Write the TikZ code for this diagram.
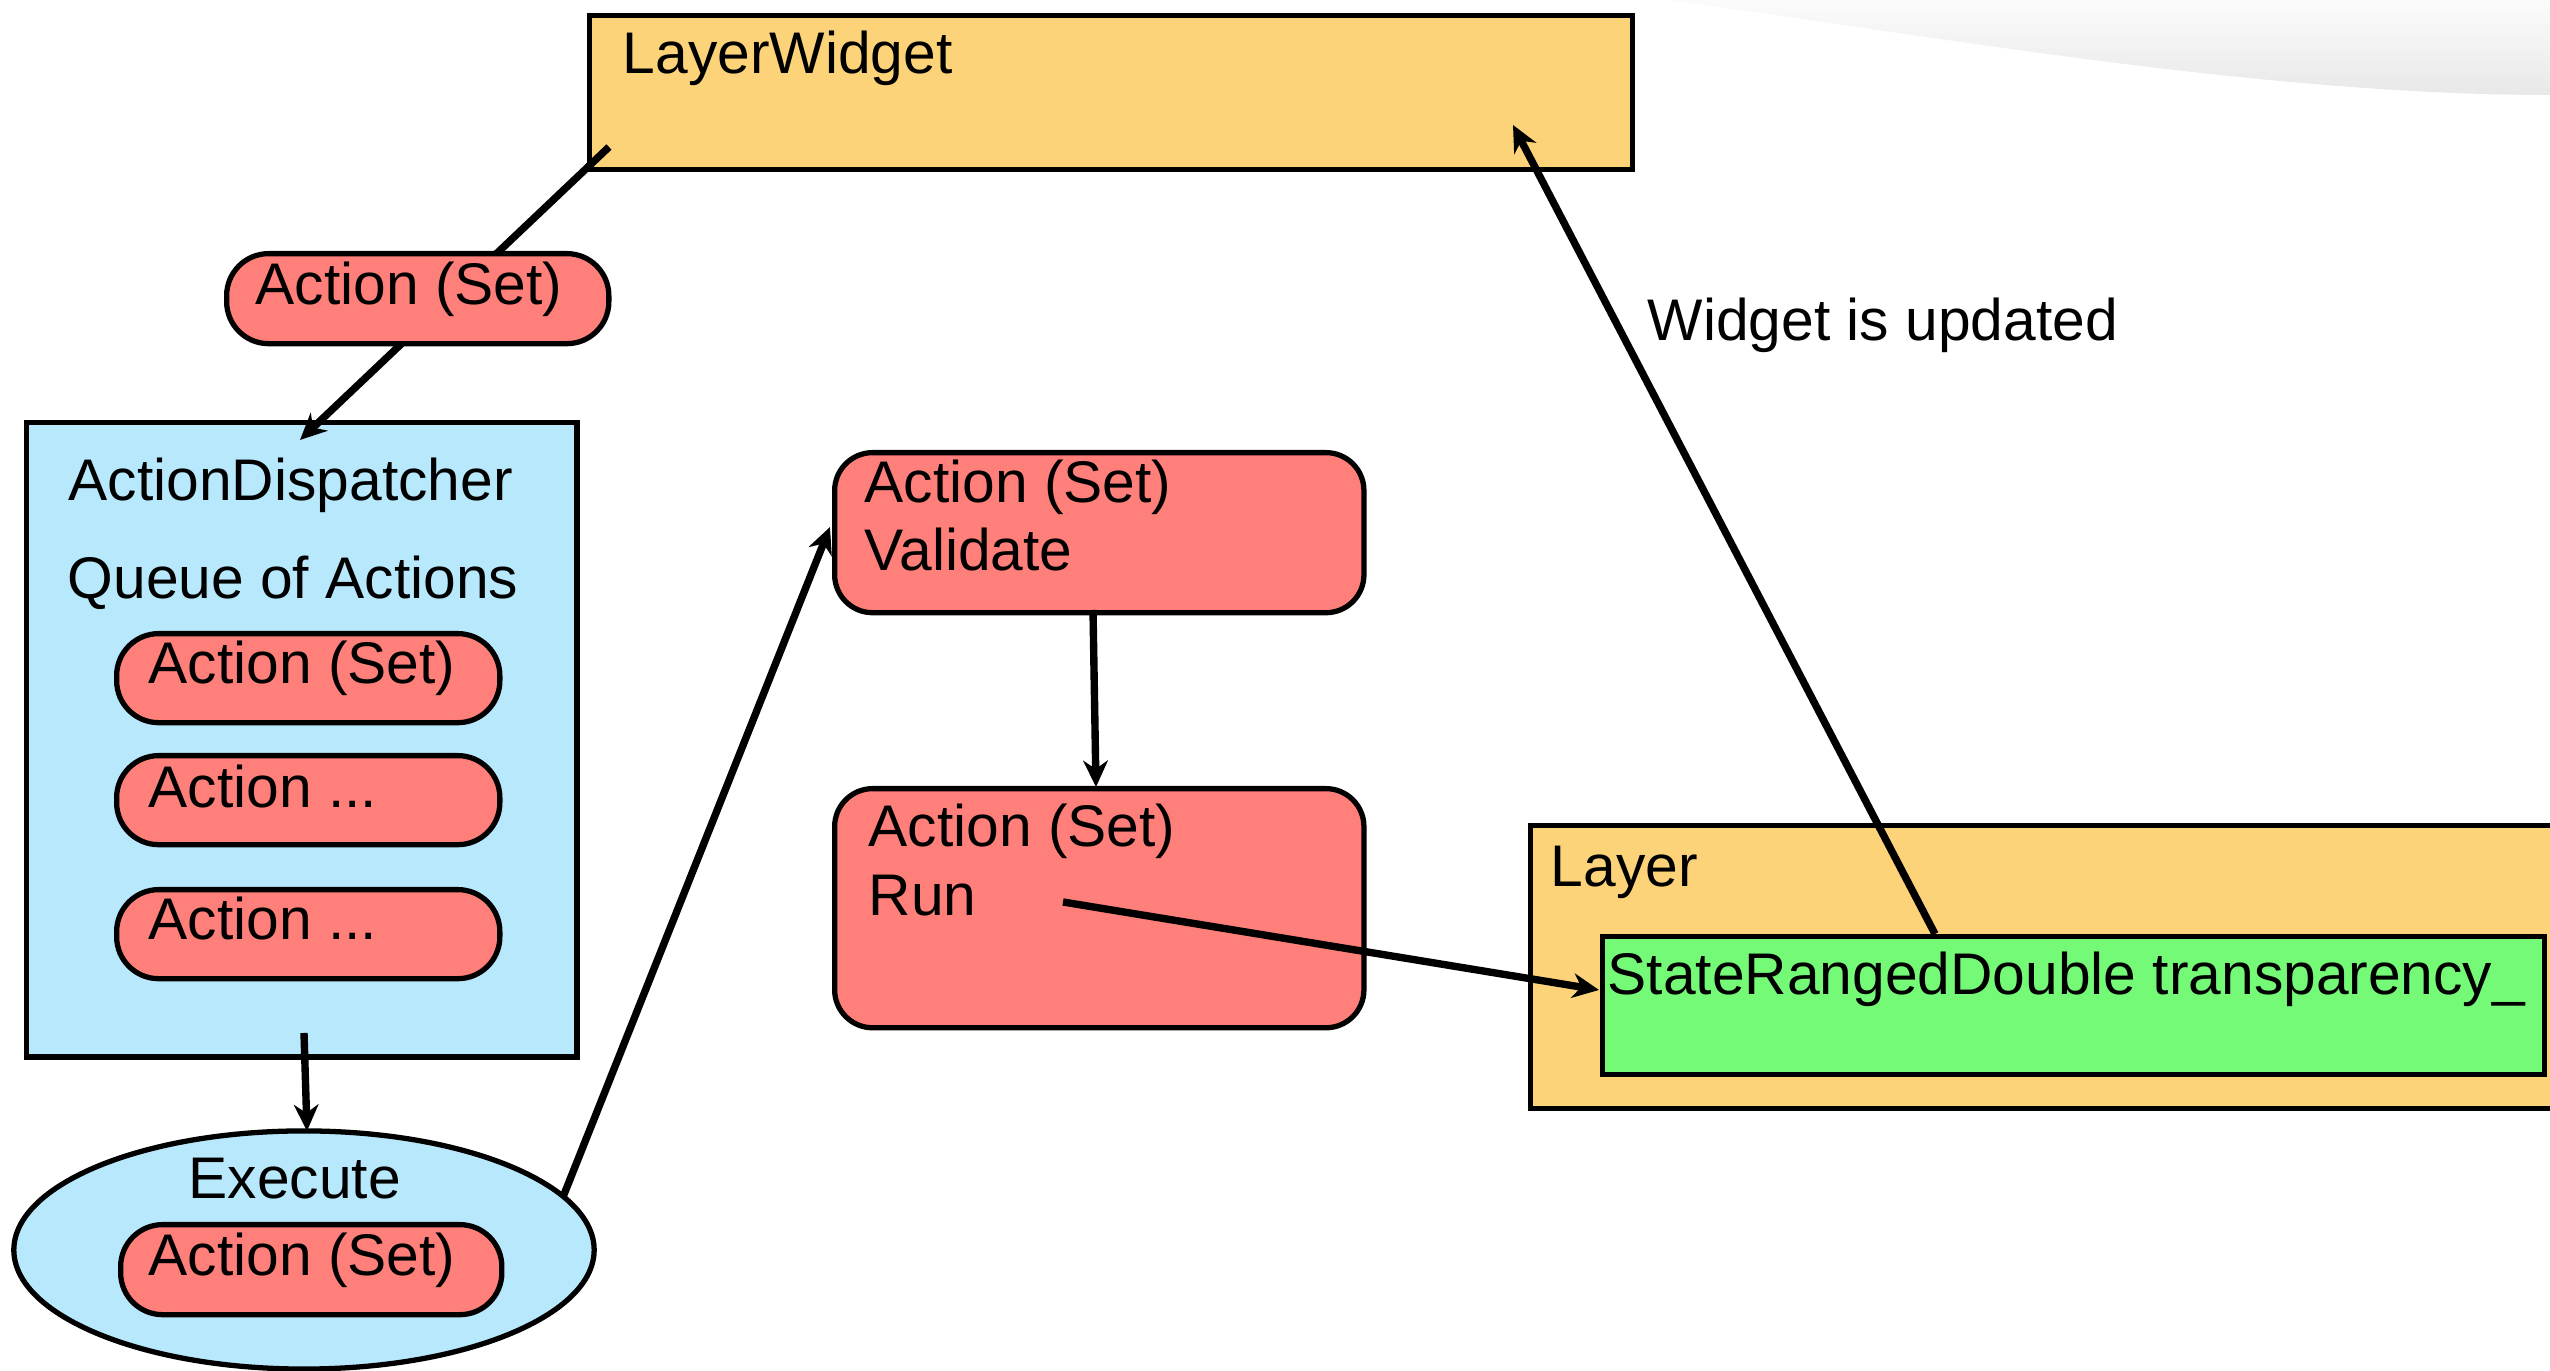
\documentclass[tikz,border=0pt]{standalone}
\usepackage{fontspec}
\setmainfont{Liberation Sans}
\usetikzlibrary{arrows.meta,shapes.geometric}
\definecolor{boxorange}{RGB}{253,211,122}
\definecolor{pillred}{RGB}{255,128,122}
\definecolor{queueblue}{RGB}{184,232,252}
\definecolor{stategreen}{RGB}{117,250,120}

\begin{document}
\begin{tikzpicture}[x=0.01cm,y=-0.01cm,
  frame/.style={draw=black, line width=1.5pt, rectangle, anchor=north west, inner sep=0pt},
  pill/.style={frame, fill=pillred, rounded corners=0.42cm},
  bigpill/.style={frame, fill=pillred, rounded corners=0.38cm},
  txt/.style={anchor=base west, inner sep=0pt, font=\fontsize{16.7}{20}\selectfont},
  link/.style={draw=black, line width=2.1pt, -{Stealth[length=7.5pt,width=7pt,inset=2.4pt]}},
]
\useasboundingbox (0,0) rectangle (2550,1371);
\clip (0,0) rectangle (2550,1371);
\fill[white] (0,0) rectangle (2550,1371);

% soft page-curl shadow in the upper right corner
\shade[top color=gray!3, bottom color=gray!18]
  (1667,0) .. controls (1900,30) and (2250,95) .. (2550,95) -- (2550,0) -- cycle;

% LayerWidget
\node[frame, fill=boxorange, minimum width=10.42cm, minimum height=1.54cm] (lw) at (587,13) {};
\node[txt] (lwt) at (622,74) {LayerWidget};

% ActionDispatcher with its queue
\node[frame, fill=queueblue, minimum width=5.50cm, minimum height=6.34cm] (ad) at (24,420) {};
\node[txt] (adt) at (68,501) {ActionDispatcher};
\node[txt] (adq) at (67,599) {Queue of Actions};
\node[pill, minimum width=3.83cm, minimum height=0.89cm] (q1) at (114,631) {};
\node[txt] (q1t) at (148,684) {Action (Set)};
\node[pill, minimum width=3.83cm, minimum height=0.89cm] (q2) at (114,753) {};
\node[txt] (q2t) at (148,808) {Action ...};
\node[pill, minimum width=3.83cm, minimum height=0.89cm] (q3) at (114,887) {};
\node[txt] (q3t) at (148,940) {Action ...};

% action sent from the widget to the dispatcher
\coordinate (lwout) at (609,147);
\coordinate (adin) at (300,440);
\draw[link] (lwout) -- (adin);
\node[pill, minimum width=3.82cm, minimum height=0.90cm] (p0) at (224,251) {};
\node[txt] (p0t) at (255,305) {Action (Set)};

% Execute
\node[draw=black, line width=1.5pt, fill=queueblue, ellipse, inner sep=0pt,
      minimum width=5.80cm, minimum height=2.38cm] (ex) at (304,1250) {};
\node[txt] (ext) at (188,1199) {Execute};
\node[pill, minimum width=3.81cm, minimum height=0.90cm] (p4) at (118,1222) {};
\node[txt] (p4t) at (148,1276) {Action (Set)};

% Validate and Run
\node[bigpill, minimum width=5.29cm, minimum height=1.60cm] (pv) at (832,450) {};
\node[txt] (pvt1) at (864,503) {Action (Set)};
\node[txt] (pvt2) at (864,571) {Validate};
\node[bigpill, minimum width=5.29cm, minimum height=2.39cm] (pr) at (832,786) {};
\node[txt] (prt1) at (868,847) {Action (Set)};
\node[txt] (prt2) at (868,916) {Run};

% Layer with its state
\node[frame, fill=boxorange, minimum width=10.60cm, minimum height=2.83cm] (ly) at (1528,823) {};
\node[txt] (lyt) at (1550,887) {Layer};
\node[frame, fill=stategreen, minimum width=9.41cm, minimum height=1.38cm] (sr) at (1600,934) {};
\node[txt] (srt) at (1607,995) {StateRangedDouble transparency\_};

\node[txt] (upd) at (1647,341) {Widget is updated};

% connectors
\coordinate (adout) at (304,1033);
\coordinate (exin) at (307,1131);
\draw[link] (adout) -- (exin);

\coordinate (exout) at (563,1197);
\coordinate (pvin) at (830,527);
\draw[link] (exout) -- (pvin);

\coordinate (pvout) at (1093,610);
\coordinate (prin) at (1096,787);
\draw[link] (pvout) -- (prin);

\coordinate (prout) at (1063,902);
\coordinate (srin) at (1599,990);
\draw[link] (prout) -- (srin);

\coordinate (srout) at (1935,934);
\coordinate (lwin) at (1513,125);
\draw[link] (srout) -- (lwin);
\end{tikzpicture}
\end{document}
